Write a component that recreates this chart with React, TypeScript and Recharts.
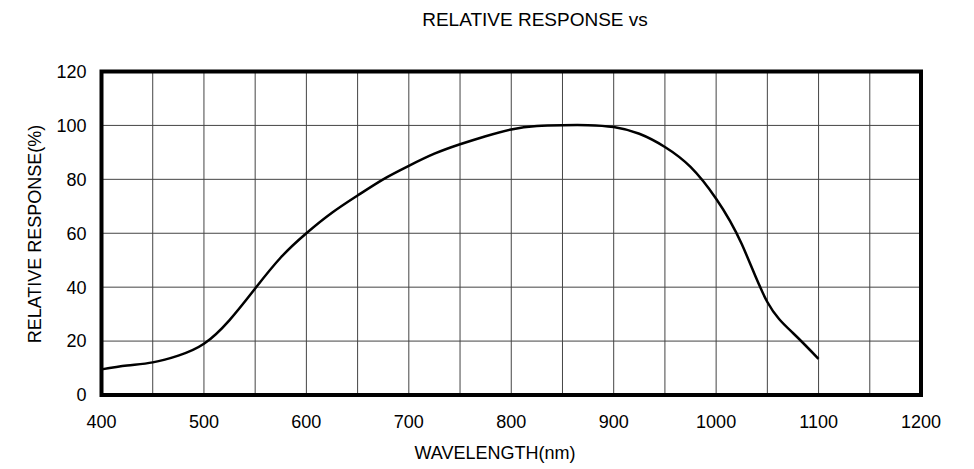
import { CartesianGrid, Line, LineChart, ReferenceArea, XAxis, YAxis } from 'recharts';

// spectral response
const wavelength = [
  400, 425, 450, 475, 500, 525, 550, 575, 600, 625, 650, 675, 700, 725, 750,
  775, 800, 825, 850, 875, 900, 925, 950, 975, 1000, 1025, 1050, 1075, 1100,
];
const response = [
  9.5, 10.9, 12.1, 14.6, 19, 27.8, 39.5, 51, 60, 67.6, 74, 80, 85, 89.5, 93,
  96, 98.5, 99.8, 100.1, 100.1, 99.4, 96.9, 92, 84.6, 72.8, 56, 34.5, 23, 13.4,
];

const xTicks = [400, 450, 500, 550, 600, 650, 700, 750, 800, 850, 900, 950, 1000, 1050, 1100, 1150, 1200];
const xLabelled = [400, 500, 600, 700, 800, 900, 1000, 1100, 1200];
const yTicks = [0, 20, 40, 60, 80, 100, 120];

const data = wavelength.map((w, i) => ({ w, r: response[i] }));

const font = '"Liberation Sans", Arial, sans-serif';

const App = () => {
  return (
    <div style={{ position: 'absolute', left: 0, top: 0, width: 974, height: 469, fontFamily: font, color: '#000' }}>
      <div
        style={{
          position: 'absolute',
          left: 385,
          width: 300,
          top: 10,
          fontSize: 19,
          lineHeight: '19px',
          textAlign: 'center',
        }}
      >
        RELATIVE RESPONSE vs
      </div>

      <LineChart width={974} height={469} data={data} margin={{ top: 71.5, right: 53, bottom: 44, left: 0 }}>
        <CartesianGrid stroke="#444" strokeWidth={1} />
        <XAxis
          dataKey="w"
          type="number"
          domain={[400, 1200]}
          ticks={xTicks}
          tickFormatter={v => (xLabelled.includes(v) ? String(v) : '')}
          axisLine={false}
          tickLine={false}
          tickSize={0}
          tickMargin={20}
          height={30}
          tick={{ fill: '#000', fontSize: 18, fontFamily: font }}
          interval={0}
        />
        <YAxis
          type="number"
          domain={[0, 120]}
          ticks={yTicks}
          axisLine={false}
          tickLine={false}
          tickSize={0}
          tickMargin={15}
          width={101.5}
          tick={{ fill: '#000', fontSize: 18, fontFamily: font }}
          interval={0}
        />
        <Line
          type="natural"
          dataKey="r"
          stroke="#000"
          strokeWidth={2.5}
          dot={false}
          isAnimationActive={false}
        />
        <ReferenceArea x1={400} x2={1200} y1={0} y2={120} fill="none" stroke="#000" strokeWidth={4} />
      </LineChart>

      <div
        style={{
          position: 'absolute',
          left: 345,
          width: 300,
          top: 444,
          fontSize: 18,
          lineHeight: '18px',
          textAlign: 'center',
        }}
      >
        WAVELENGTH(nm)
      </div>
      <div
        style={{
          position: 'absolute',
          left: 35 - 150,
          width: 300,
          top: 234 - 9,
          fontSize: 18,
          lineHeight: '18px',
          textAlign: 'center',
          transform: 'rotate(-90deg)',
        }}
      >
        RELATIVE RESPONSE(%)
      </div>
    </div>
  );
};

export default App;
